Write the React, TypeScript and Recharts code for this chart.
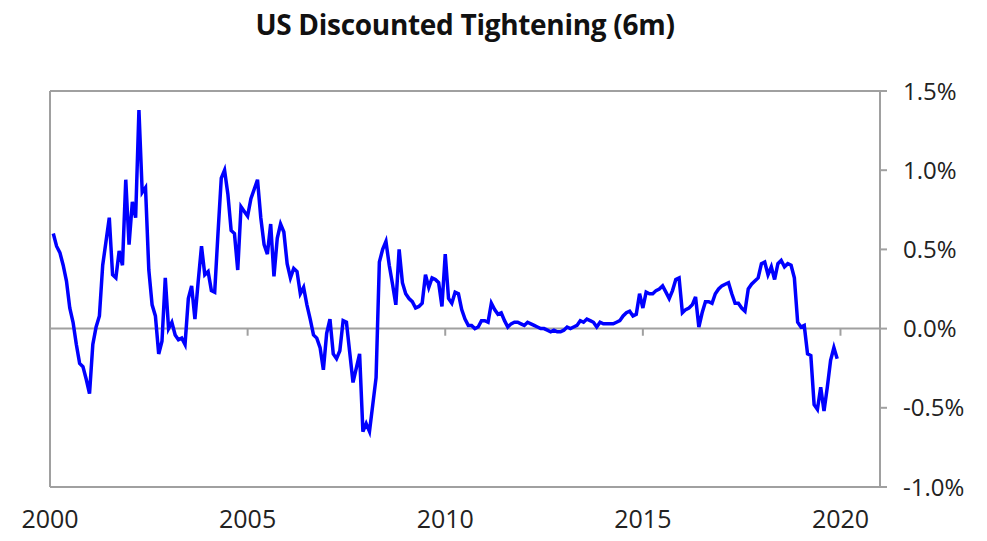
import React from "react";
import {
  LineChart,
  Line,
  XAxis,
  YAxis,
  ReferenceLine,
} from "recharts";

// monthly readings, Feb 2000 .. Dec 2019 (%)
const values2000s = [
  0.6, 0.52, 0.48, 0.4, 0.3, 0.13, 0.04, -0.1, -0.22, -0.24, -0.32,
  -0.41, -0.1, 0.01, 0.08, 0.4, 0.55, 0.7, 0.34, 0.32, 0.49, 0.4, 0.94,
  0.53, 0.8, 0.7, 1.38, 0.86, 0.89, 0.37, 0.15, 0.08, -0.16, -0.08, 0.32,
  0.0, 0.04, -0.04, -0.07, -0.06, -0.1, 0.19, 0.27, 0.06, 0.3, 0.52, 0.34,
  0.36, 0.24, 0.23, 0.6, 0.95, 1.0, 0.85, 0.62, 0.6, 0.37, 0.77, 0.74,
  0.71, 0.82, 0.88, 0.94, 0.7, 0.53, 0.47, 0.66, 0.33, 0.57, 0.66, 0.61,
  0.41, 0.32, 0.38, 0.36, 0.22, 0.26, 0.15, 0.06, -0.04, -0.06, -0.12,
  -0.26, -0.03, 0.06, -0.16, -0.19, -0.14, 0.05, 0.04, -0.15, -0.34, -0.25,
  -0.16, -0.65, -0.6, -0.65, -0.48, -0.31, 0.42, 0.5, 0.55, 0.4, 0.28, 0.15,
  0.5, 0.29, 0.22, 0.19, 0.17, 0.13, 0.14, 0.16, 0.34, 0.26, 0.32, 0.31,
  0.29, 0.14, 0.47,
];

const values2010s = [
  0.19, 0.16, 0.23, 0.22, 0.12, 0.06, 0.02, 0.02, 0.0, 0.01, 0.05, 0.05,
  0.04, 0.16, 0.12, 0.09, 0.1, 0.05, 0.01, 0.03, 0.04, 0.04, 0.03, 0.02,
  0.04, 0.03, 0.02, 0.01, 0.0, 0.0, -0.01, -0.02, -0.01, -0.02, -0.02,
  -0.01, 0.01, 0.0, 0.01, 0.02, 0.05, 0.04, 0.06, 0.05, 0.04, 0.01, 0.04,
  0.03, 0.03, 0.03, 0.03, 0.04, 0.05, 0.08, 0.1, 0.11, 0.08, 0.09, 0.22,
  0.13, 0.23, 0.22, 0.22, 0.24, 0.25, 0.27, 0.23, 0.19, 0.24, 0.31, 0.32,
  0.1, 0.12, 0.13, 0.15, 0.2, 0.01, 0.1, 0.17, 0.17, 0.16, 0.22, 0.25, 0.27,
  0.28, 0.29, 0.22, 0.16, 0.16, 0.13, 0.11, 0.25, 0.28, 0.3, 0.32, 0.41,
  0.42, 0.34, 0.39, 0.31, 0.41, 0.43, 0.39, 0.41, 0.4, 0.32, 0.04, 0.01,
  0.02, -0.16, -0.17, -0.48, -0.51, -0.37, -0.52, -0.37, -0.2, -0.12, -0.19,
];

const yearTicks = [2000, 2005, 2010, 2015, 2020];
const pctTicks = [-1.0, -0.5, 0.0, 0.5, 1.0, 1.5];

const series = [...values2000s, ...values2010s];
const data = series.map((v, i) => ({ t: 2000 + (i + 1) / 12, v }));

const FONT = "'Open Sans', 'Noto Sans', sans-serif";
const GREY = "#a0a0a0";

const App = () => {
  return (
    <div
      style={{
        position: "absolute",
        left: 0,
        top: 0,
        width: 987,
        height: 541,
        background: "#fff",
        fontFamily: FONT,
      }}
    >
      <div
        style={{
          position: "absolute",
          left: 50,
          width: 830,
          top: 5,
          textAlign: "center",
          fontWeight: 700,
          fontSize: 28,
          letterSpacing: -0.3,
          color: "#111",
        }}
      >
        US Discounted Tightening (6m)
      </div>
      <LineChart
        width={987}
        height={541}
        data={data}
        margin={{ top: 91, right: 0, bottom: 0, left: 50 }}
      >
        <XAxis
          dataKey="t"
          type="number"
          domain={[2000, 2021]}
          ticks={yearTicks}
          axisLine={false}
          tickLine={false}
          height={54}
          tickMargin={17}
          tick={{ fontSize: 25, fill: "#222", fontFamily: FONT }}
        />
        <YAxis
          orientation="right"
          domain={[-1, 1.5]}
          ticks={pctTicks}
          width={107}
          axisLine={{ stroke: GREY, strokeWidth: 2 }}
          tickLine={{ stroke: GREY, strokeWidth: 2 }}
          tickSize={7}
          tickMargin={16}
          tickFormatter={(v: number) => `${v.toFixed(1)}%`}
          tick={{ fontSize: 24, fill: "#222", fontFamily: FONT }}
        />
        <ReferenceLine y={1.5} stroke={GREY} strokeWidth={2} />
        <ReferenceLine y={-1} stroke={GREY} strokeWidth={2} />
        <ReferenceLine x={2000} stroke={GREY} strokeWidth={2} />
        <ReferenceLine y={0} stroke={GREY} strokeWidth={2} />
        {yearTicks.map((yr) => (
          <ReferenceLine
            key={yr}
            segment={[
              { x: yr, y: 0 },
              { x: yr, y: -0.045 },
            ]}
            stroke={GREY}
            strokeWidth={2}
          />
        ))}
        <Line
          dataKey="v"
          stroke="#0000ff"
          strokeWidth={3.5}
          dot={false}
          isAnimationActive={false}
        />
      </LineChart>
    </div>
  );
};

export default App;
